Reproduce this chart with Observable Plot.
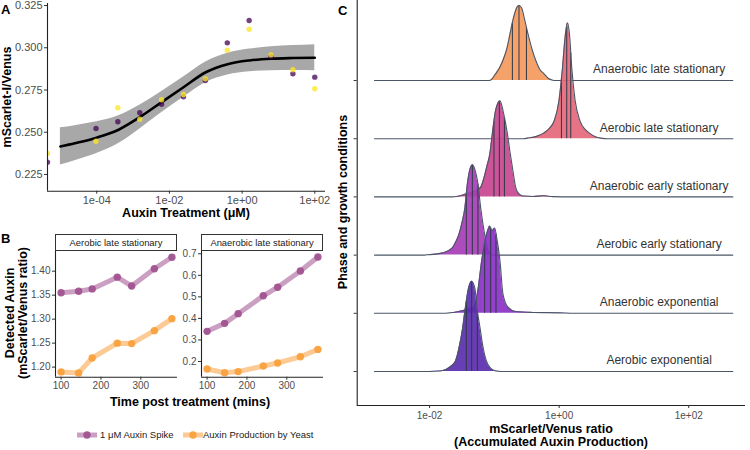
<!DOCTYPE html>
<html><head><meta charset="utf-8">
<script src="https://cdn.jsdelivr.net/npm/d3@7"></script>
<script src="https://cdn.jsdelivr.net/npm/@observablehq/plot@0.6"></script>
<style>
body{margin:0;background:#fff;}
#root{position:relative;width:750px;height:450px;overflow:hidden;font-family:"Liberation Sans",Arial,Helvetica,sans-serif;background:#fff;}
.pnl{position:absolute;}
.tag{position:absolute;font-weight:bold;font-size:13px;color:#000;line-height:13px;}
.strip{position:absolute;border:1px solid #333;box-sizing:border-box;font-size:9.4px;color:#1a1a1a;text-align:center;line-height:15px;background:#fff;white-space:nowrap;}
.ttl{position:absolute;font-weight:bold;font-size:12.5px;color:#000;white-space:nowrap;text-align:center;line-height:13px;transform:translate(-50%,-50%);}
.rot{transform:translate(-50%,-50%) rotate(-90deg);}
.leg{position:absolute;font-size:9.5px;color:#1a1a1a;white-space:nowrap;line-height:12px;}
</style>
</head><body><div id="root"></div>
<script>
// ---------------- Panel A data ----------------
const doseUM = [0.0000044, 0.0000954, 0.000381, 0.00153, 0.0061, 0.0244, 0.0977, 0.391, 1.5625, 6.25, 25, 100];
const ratioRep1 = [0.2323, 0.2522, 0.2562, 0.2615, 0.2666, 0.2710, 0.2806, 0.3029, 0.3161, 0.2948, 0.2846, 0.2826];
const ratioRep2 = [0.2374, 0.2447, 0.2645, 0.2577, 0.2692, 0.2723, 0.2816, 0.2986, 0.3110, 0.2958, 0.2870, 0.2757];
const fitDoseUM = [1e-5, 2.5e-5, 1e-4, 4e-4, 1.6e-3, 6.3e-3, 0.025, 0.1, 0.4, 1.6, 6.3, 25, 100];
const fitMean  = [0.2416, 0.2435, 0.2468, 0.2515, 0.2592, 0.2680, 0.2768, 0.2855, 0.2903, 0.2925, 0.2935, 0.2939, 0.2941];
const fitLower = [0.2306, 0.2331, 0.2374, 0.2433, 0.2522, 0.2618, 0.2708, 0.2794, 0.2839, 0.2858, 0.2864, 0.2865, 0.2864];
const fitUpper = [0.2526, 0.2539, 0.2562, 0.2597, 0.2662, 0.2742, 0.2828, 0.2916, 0.2967, 0.2992, 0.3006, 0.3013, 0.3018];
const ticksA_x = [1e-4, 1e-2, 1, 100];
const ticksA_y = [0.225, 0.250, 0.275, 0.300, 0.325];
const titleA_x = "Auxin Treatment (\u03BCM)";
const titleA_y = "mScarlet-I/Venus";

// ---------------- Panel B data ----------------
const timeMins = [100, 144, 178, 241, 277, 334, 378];
const aerobicSpike = [1.355, 1.358, 1.363, 1.3875, 1.369, 1.405, 1.429];
const aerobicYeast = [1.190, 1.188, 1.219, 1.250, 1.249, 1.276, 1.301];
const anaerobicSpike = [0.340, 0.377, 0.422, 0.505, 0.545, 0.620, 0.685];
const anaerobicYeast = [0.165, 0.148, 0.153, 0.179, 0.193, 0.222, 0.256];
const facetNames = ["Aerobic late stationary", "Anaerobic late stationary"];
const seriesNames = ["1 \u03BCM Auxin Spike", "Auxin Production by Yeast"];
const ticksB_x = [100, 200, 300];
const ticksB_yAer = [1.20, 1.25, 1.30, 1.35, 1.40];
const ticksB_yAna = [0.2, 0.3, 0.4, 0.5, 0.6, 0.7];
const titleB_x = "Time post treatment (mins)";
const titleB_y = ["Detected Auxin", "(mScarlet/Venus ratio)"];

// ---------------- Panel C data (log10 ratio, ridge height in row units) ----------------
const ridgeLabels = ["Aerobic exponential", "Anaerobic exponential", "Aerobic early stationary",
  "Anaerobic early stationary", "Aerobic late stationary", "Anaerobic late stationary"];
const r0Log = [-2.85, -2.0, -1.83, -1.686, -1.598, -1.532, -1.49, -1.454, -1.40, -1.35, -1.30, -1.263, -1.22, -1.185, -1.124, -1.073, -0.98, -0.9, 2.68];
const r0H   = [0, 0, 0.008, 0.078, 0.186, 0.48, 0.744, 1.046, 1.426, 1.55, 1.426, 1.046, 0.744, 0.48, 0.186, 0.078, 0.008, 0, 0];
const r1Log = [-2.85, -1.75, -1.63, -1.50, -1.40, -1.315, -1.263, -1.196, -1.13, -1.093, -1.073, -1.034, -0.995, -0.964, -0.913, -0.867, -0.79, -0.67, -0.40, 0.0, 0.2, 2.68];
const r1H   = [0, 0, 0.015, 0.045, 0.075, 0.105, 0.33, 0.90, 1.32, 1.455, 1.5, 1.42, 1.467, 1.30, 0.90, 0.33, 0.105, 0.03, 0.015, 0.008, 0, 0];
const r2Log = [-2.85, -2.10, -2.04, -1.83, -1.649, -1.60, -1.547, -1.50, -1.454, -1.417, -1.37, -1.34, -1.30, -1.253, -1.212, -1.15, -1.108, -1.057, -1.0, 2.68];
const r2H   = [0, 0, 0.005, 0.03, 0.124, 0.217, 0.357, 0.558, 0.82, 1.22, 1.50, 1.55, 1.47, 1.22, 0.82, 0.357, 0.124, 0.016, 0, 0];
const r3Log = [-2.85, -1.65, -1.58, -1.44, -1.30, -1.212, -1.16, -1.119, -1.07, -1.031, -0.98, -0.913, -0.86, -0.799, -0.76, -0.722, -0.671, -0.62, -0.56, -0.40, -0.24, -0.10, 0.2, 2.68];
const r3H   = [0, 0, 0.008, 0.05, 0.10, 0.165, 0.33, 0.51, 0.74, 1.09, 1.49, 1.65, 1.45, 1.09, 0.78, 0.51, 0.165, 0.05, 0.016, 0.008, 0.02, 0.005, 0, 0];
const r4Log = [-2.85, -0.55, -0.49, -0.35, -0.233, -0.15, -0.079, -0.002, 0.051, 0.09, 0.129, 0.16, 0.195, 0.246, 0.323, 0.40, 0.462, 0.55, 0.643, 0.75, 2.68];
const r4H   = [0, 0, 0.01, 0.04, 0.10, 0.18, 0.30, 0.66, 1.21, 1.73, 1.99, 1.79, 1.21, 0.66, 0.30, 0.16, 0.10, 0.04, 0.01, 0, 0];
const r5Log = [-2.85, -1.10, -1.06, -0.98, -0.92, -0.867, -0.80, -0.759, -0.70, -0.65, -0.62, -0.58, -0.53, -0.481, -0.42, -0.362, -0.30, -0.233, -0.17, -0.10, -0.05, 2.68];
const r5H   = [0, 0, 0.006, 0.116, 0.219, 0.348, 0.58, 0.80, 1.097, 1.264, 1.29, 1.251, 1.032, 0.80, 0.542, 0.348, 0.194, 0.116, 0.039, 0.006, 0, 0];
const quartiles = [
  [-1.433, -1.35, -1.263],
  [-1.15, -1.057, -0.975],
  [-1.433, -1.34, -1.253],
  [-1.006, -0.923, -0.845],
  [0.035, 0.117, 0.179],
  [-0.722, -0.62, -0.505]
];
const ticksC_x = [0.01, 1, 100];
const titleC_x = ["mScarlet/Venus ratio", "(Accumulated Auxin Production)"];
const titleC_y = "Phase and growth conditions";

// ---------------- styling ----------------
const ridgeFills = ["#5B2EAE", "#8A30C5", "#A63DB6", "#C7468F", "#E4687A", "#F49A5D"];
const spikeColor = "#A0508F";
const yeastColor = "#F99F3C";
const FONT = '"Liberation Sans", Arial, Helvetica, sans-serif';
const baseStyle = {fontFamily: FONT, fontSize: "11px", color: "#4d4d4d", background: "none", overflow: "visible"};
const sci = d => { const e = Math.round(Math.log10(d)); return "1e" + (e < 0 ? "-" : "+") + String(Math.abs(e)).padStart(2, "0"); };
const root = document.getElementById("root");
function place(el, left, top) { el.classList.add("pnl"); el.style.left = left + "px"; el.style.top = top + "px"; root.appendChild(el); return el; }
function div(cls, lines, css) {
  const d = document.createElement("div"); d.className = cls;
  [].concat(lines).forEach((t, i) => { if (i) d.appendChild(document.createElement("br")); d.appendChild(document.createTextNode(t)); });
  Object.assign(d.style, css); root.appendChild(d); return d;
}

// ================= Panel A =================
const ptsA = doseUM.map((d, i) => ({dose: d, v: ratioRep1[i]}));
const ptsA2 = doseUM.map((d, i) => ({dose: d, v: ratioRep2[i]}));
const fitA = fitDoseUM.map((d, i) => ({dose: d, m: fitMean[i], lo: fitLower[i], hi: fitUpper[i]}));
const xA = [Math.pow(10, -5.355), Math.pow(10, 2.295)];
const yA = [0.2151, 0.3262];
const plotA = Plot.plot({
  width: 335, height: 222, marginLeft: 47, marginRight: 10, marginTop: 3, marginBottom: 31.3,
  x: {type: "log", domain: xA}, y: {domain: yA},
  style: baseStyle,
  marks: [
    Plot.areaY(fitA, {x: "dose", y1: "lo", y2: "hi", fill: "#A8A8A8", curve: "monotone-x"}),
    Plot.line(fitA, {x: "dose", y: "m", stroke: "#000", strokeWidth: 2.6, curve: "monotone-x"}),
    Plot.dot(ptsA, {x: "dose", y: "v", r: 2.7, fill: "#440154", fillOpacity: 0.75, stroke: "none", clip: true}),
    Plot.dot(ptsA2, {x: "dose", y: "v", r: 2.7, fill: "#FDE725", fillOpacity: 0.78, stroke: "none", clip: true}),
    Plot.ruleX([xA[0]], {stroke: "#222", strokeWidth: 1.1}),
    Plot.ruleY([yA[0]], {stroke: "#222", strokeWidth: 1.1}),
    Plot.axisX({ticks: ticksA_x, tickFormat: sci, tickSize: 3, tickPadding: 2, label: null, stroke: "#333"}),
    Plot.axisY({ticks: ticksA_y, tickFormat: d3.format(".3f"), tickSize: 3, tickPadding: 2, label: null, stroke: "#333"})
  ]
});
place(plotA, 0, 0);
div("ttl", titleA_x, {left: "186px", top: "213px"});
div("ttl rot", titleA_y, {left: "7px", top: "97px"});

// ================= Panel B =================
const xB = [86, 392];
function facet(spike, yeast, yDom, ticks, fmt, opts) {
  const s = timeMins.map((t, i) => ({t, v: spike[i]}));
  const y = timeMins.map((t, i) => ({t, v: yeast[i]}));
  return Plot.plot({
    width: opts.width, height: 160, marginLeft: opts.ml, marginRight: opts.mr, marginTop: 11, marginBottom: 23.3,
    x: {domain: xB}, y: {domain: yDom},
    style: {...baseStyle, fontSize: "10px"},
    marks: [
      Plot.line(s, {x: "t", y: "v", stroke: spikeColor, strokeWidth: 5, strokeOpacity: 0.55}),
      Plot.dot(s, {x: "t", y: "v", r: 3.7, fill: spikeColor, fillOpacity: 0.92, stroke: "none"}),
      Plot.line(y, {x: "t", y: "v", stroke: yeastColor, strokeWidth: 5, strokeOpacity: 0.55}),
      Plot.dot(y, {x: "t", y: "v", r: 3.7, fill: yeastColor, fillOpacity: 0.92, stroke: "none"}),
      Plot.ruleX([xB[0]], {stroke: "#222", strokeWidth: 1.1}),
      Plot.ruleY([yDom[0]], {stroke: "#222", strokeWidth: 1.1}),
      Plot.axisX({ticks: ticksB_x, tickSize: 3, tickPadding: 2, label: null, stroke: "#333"}),
      Plot.axisY({ticks, tickFormat: d3.format(fmt), tickSize: 3, tickPadding: 2, label: null, stroke: "#333"})
    ]
  });
}
place(facet(aerobicSpike, aerobicYeast, [1.179, 1.441], ticksB_yAer, ".2f", {width: 177, ml: 55, mr: 0}), 0, 240);
place(facet(anaerobicSpike, anaerobicYeast, [0.127, 0.7107], ticksB_yAna, ".1f", {width: 155, ml: 31, mr: 2}), 170, 240);
div("strip", facetNames[0], {left: "55px", top: "234px", width: "122px", height: "17px"});
div("strip", facetNames[1], {left: "201px", top: "234px", width: "122px", height: "17px"});
div("ttl", titleB_x, {left: "190px", top: "402px"});
div("ttl rot", titleB_y, {left: "16px", top: "313px", lineHeight: "12.5px"});

// legend B
function legendKey(color, left) {
  const ns = "http://www.w3.org/2000/svg";
  const s = document.createElementNS(ns, "svg");
  s.setAttribute("width", 22); s.setAttribute("height", 12);
  s.style.position = "absolute"; s.style.left = left + "px"; s.style.top = "429px";
  const l = document.createElementNS(ns, "line");
  l.setAttribute("x1", 1); l.setAttribute("x2", 21); l.setAttribute("y1", 6); l.setAttribute("y2", 6);
  l.setAttribute("stroke", color); l.setAttribute("stroke-width", 5); l.setAttribute("stroke-opacity", 0.55);
  const c = document.createElementNS(ns, "circle");
  c.setAttribute("cx", 11); c.setAttribute("cy", 6); c.setAttribute("r", 3.7); c.setAttribute("fill", color); c.setAttribute("fill-opacity", 0.92);
  s.appendChild(l); s.appendChild(c); root.appendChild(s);
}
legendKey(spikeColor, 76);
div("leg", seriesNames[0], {left: "100px", top: "429px"});
legendKey(yeastColor, 182);
div("leg", seriesNames[1], {left: "203px", top: "429px"});

// ================= Panel C =================
const ridgeLogs = [r0Log, r1Log, r2Log, r3Log, r4Log, r5Log];
const ridgeHs = [r0H, r1H, r2H, r3H, r4H, r5H];
function hAt(lx, xs, hs) {
  for (let i = 1; i < xs.length; i++) if (lx <= xs[i]) { const f = (lx - xs[i-1]) / (xs[i] - xs[i-1]); return hs[i-1] + f * (hs[i] - hs[i-1]); }
  return 0;
}
const xC = [Math.pow(10, -3.117), Math.pow(10, 2.876)];
const yC = [-0.584, 6.375];
const ridgeMarks = [];
for (let r = 5; r >= 0; r--) {
  const data = ridgeLogs[r].map((lx, i) => ({x: Math.pow(10, lx), y0: r, y: r + ridgeHs[r][i]}));
  const q = quartiles[r].map(lx => ({x: Math.pow(10, lx), y0: r, y: r + hAt(lx, ridgeLogs[r], ridgeHs[r])}));
  ridgeMarks.push(
    Plot.areaY(data, {x: "x", y1: "y0", y2: "y", fill: ridgeFills[r], fillOpacity: 0.92, curve: "monotone-x"}),
    Plot.ruleX(q, {x: "x", y1: "y0", y2: "y", stroke: "#2E3744", strokeWidth: 1}),
    Plot.line(data, {x: "x", y: "y", stroke: "#4A5666", strokeWidth: 1.1, curve: "monotone-x"})
  );
}
const plotC = Plot.plot({
  width: 420, height: 450, marginLeft: 26.7, marginRight: 5, marginTop: 0, marginBottom: 45,
  x: {type: "log", domain: xC}, y: {domain: yC},
  style: {...baseStyle, fontSize: "10px"},
  marks: [
    ...ridgeMarks,
    Plot.text(ridgeLabels, {x: Math.pow(10, 1.543), y: (d, i) => i, dy: -11, fontSize: 12, fill: "#333", textAnchor: "middle"}),
    Plot.ruleX([xC[0]], {stroke: "#222", strokeWidth: 1.1}),
    Plot.ruleY([yC[0]], {stroke: "#222", strokeWidth: 1.1}),
    Plot.axisX({ticks: ticksC_x, tickFormat: sci, tickSize: 3, tickPadding: 3, label: null, stroke: "#333"}),
    Plot.axisY({ticks: [0, 1, 2, 3, 4, 5], tickFormat: () => "", tickSize: 3, label: null, stroke: "#333"})
  ]
});
place(plotC, 330, 0);
div("ttl", titleC_x, {left: "551px", top: "436px", lineHeight: "13.4px"});
div("ttl rot", titleC_y, {left: "343px", top: "202px"});

// panel tags
div("tag", "A", {left: "1px", top: "3px"});
div("tag", "B", {left: "1px", top: "232px"});
div("tag", "C", {left: "338px", top: "4px"});
</script>
</body></html>
